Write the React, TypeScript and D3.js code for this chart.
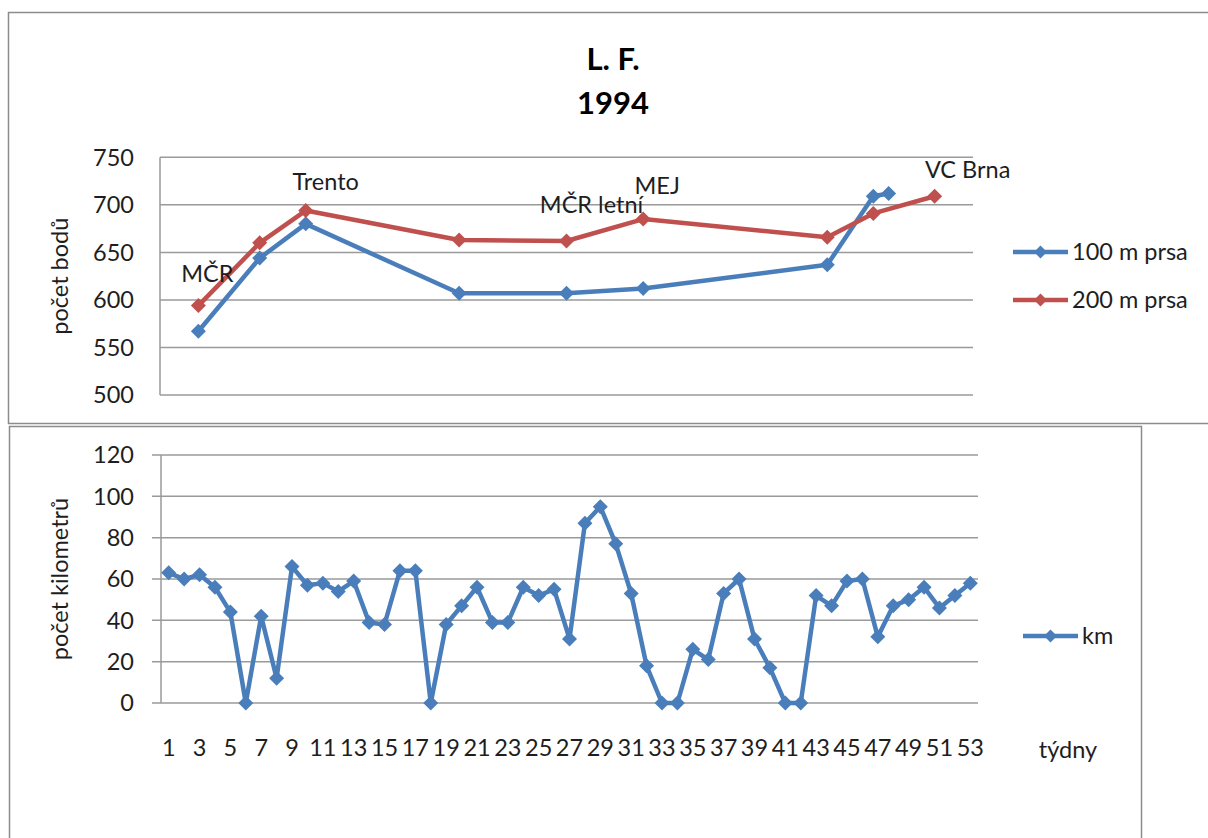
import React from "react";
import * as d3 from "d3";

// Weeks of the season (category axis shared by both panels)
const weeks: number[] = d3.range(1, 54);

// Points scored per race week – 100 m breaststroke
const prsa100Weeks = [3, 7, 10, 20, 27, 32, 44, 47, 48];
const prsa100Values = [567, 644, 680, 607, 607, 612, 637, 709, 712];

// Points scored per race week – 200 m breaststroke
const prsa200Weeks = [3, 7, 10, 20, 27, 32, 44, 47, 51];
const prsa200Values = [594, 660, 694, 663, 662, 685, 666, 691, 709];

// Race names, attached to points of the 200 m series
const raceWeeks = [3, 10, 27, 32, 51];
const raceNames = ["MČR", "Trento", "MČR letní", "MEJ", "VC Brna"];

// Weekly training volume in km
const kmValues = [
  63, 60, 62, 56, 44, 0, 42, 12, 66, 57,
  58, 54, 59, 39, 38, 64, 64, 0, 38, 47,
  56, 39, 39, 56, 52, 55, 31, 87, 95, 77,
  53, 18, 0, 0, 26, 21, 53, 60, 31, 17,
  0, 0, 52, 47, 59, 60, 32, 47, 50, 56,
  46, 52, 58,
];

const pointsTicks = [500, 550, 600, 650, 700, 750];
const kmTicks = [0, 20, 40, 60, 80, 100, 120];
const weekTicks = weeks.filter((w) => w % 2 === 1);

const BLUE = "#4a7ebb";
const RED = "#c0504d";
const GRID = "#9a9a9a";
const TEXT = "#1e1e1e";
const FONT = "Lato, 'Open Sans', sans-serif";
const FS = 23.5;

const diamond = (r: number) => `M0,${-r}L${r},0L0,${r}L${-r},0Z`;

export default function App() {
  // Upper panel scales
  const xTop = d3.scalePoint<number>().domain(weeks).range([160, 973]).padding(0.5);
  const yTop = d3.scaleLinear().domain([500, 750]).range([395, 157.3]);

  // Lower panel scales
  const xBot = d3.scalePoint<number>().domain(weeks).range([161, 978]).padding(0.5);
  const yBot = d3.scaleLinear().domain([0, 120]).range([703, 455]);

  const s100 = prsa100Weeks.map((w, i) => ({ w, v: prsa100Values[i] }));
  const s200 = prsa200Weeks.map((w, i) => ({ w, v: prsa200Values[i] }));
  const sKm = weeks.map((w, i) => ({ w, v: kmValues[i] }));

  const lineTop = d3
    .line<{ w: number; v: number }>()
    .x((d) => xTop(d.w)!)
    .y((d) => yTop(d.v));
  const lineBot = d3
    .line<{ w: number; v: number }>()
    .x((d) => xBot(d.w)!)
    .y((d) => yBot(d.v));

  // Label offsets relative to their 200 m point
  const labelShift: Record<string, [number, number]> = {
    "MČR": [9, -32],
    Trento: [20, -29],
    "MČR letní": [25, -36],
    MEJ: [14, -33],
    "VC Brna": [33, -27],
  };

  const [xt0, xt1] = xTop.range();
  const [xb0, xb1] = xBot.range();

  return (
    <svg
      width={1208}
      height={838}
      style={{ position: "absolute", left: 0, top: 0, background: "#fff" }}
      fontFamily={FONT}
    >
      <rect x={0} y={0} width={1208} height={838} fill="#fff" />

      {/* Upper chart frame */}
      <rect x={8.5} y={12.5} width={1220} height={411} fill="#fff" stroke="#8c8c8c" strokeWidth={1.5} />
      {/* Lower chart frame */}
      <rect x={9.5} y={426.5} width={1132} height={430} fill="#fff" stroke="#8c8c8c" strokeWidth={1.5} />

      {/* Title */}
      <text x={613} y={70} textAnchor="middle" fontSize={31} fontWeight={700} fill="#000">
        L. F.
      </text>
      <text x={613} y={114} textAnchor="middle" fontSize={31} fontWeight={700} fill="#000">
        1994
      </text>

      {/* Upper panel: grid, axis */}
      {pointsTicks.map((t) => (
        <g key={t}>
          <line x1={xt0} x2={xt1} y1={yTop(t)} y2={yTop(t)} stroke={GRID} strokeWidth={1.5} />
          <text x={134} y={yTop(t)} dy="0.35em" textAnchor="end" fontSize={FS} fill={TEXT}>
            {t}
          </text>
        </g>
      ))}
      <line x1={xt0} x2={xt0} y1={yTop(750)} y2={yTop(500)} stroke={GRID} strokeWidth={1.5} />
      <text
        transform={`translate(60,${(yTop(500) + yTop(750)) / 2}) rotate(-90)`}
        textAnchor="middle"
        dy="0.35em"
        fontSize={FS}
        fill={TEXT}
      >
        počet bodů
      </text>

      {/* Upper panel: series */}
      <path d={lineTop(s100) ?? ""} fill="none" stroke={BLUE} strokeWidth={4.5} strokeLinejoin="round" />
      {s100.map((d) => (
        <path key={`b${d.w}`} d={diamond(7.5)} transform={`translate(${xTop(d.w)},${yTop(d.v)})`} fill={BLUE} />
      ))}
      <path d={lineTop(s200) ?? ""} fill="none" stroke={RED} strokeWidth={4.5} strokeLinejoin="round" />
      {s200.map((d) => (
        <path key={`r${d.w}`} d={diamond(7.5)} transform={`translate(${xTop(d.w)},${yTop(d.v)})`} fill={RED} />
      ))}

      {/* Race labels */}
      {raceNames.map((name, i) => {
        const w = raceWeeks[i];
        const idx = prsa200Weeks.indexOf(w);
        const [dx, dy] = labelShift[name];
        return (
          <text
            key={name}
            x={xTop(w)! + dx}
            y={yTop(prsa200Values[idx]) + dy}
            dy="0.35em"
            textAnchor="middle"
            fontSize={FS}
            fill={TEXT}
          >
            {name}
          </text>
        );
      })}

      {/* Upper legend */}
      <g transform="translate(1013,252)">
        <line x1={0} x2={55} y1={0} y2={0} stroke={BLUE} strokeWidth={4.5} />
        <path d={diamond(6.5)} transform="translate(27.5,0)" fill={BLUE} />
        <text x={59} y={0} dy="0.35em" fontSize={FS} fill={TEXT}>
          100 m prsa
        </text>
      </g>
      <g transform="translate(1013,300)">
        <line x1={0} x2={55} y1={0} y2={0} stroke={RED} strokeWidth={4.5} />
        <path d={diamond(6.5)} transform="translate(27.5,0)" fill={RED} />
        <text x={59} y={0} dy="0.35em" fontSize={FS} fill={TEXT}>
          200 m prsa
        </text>
      </g>

      {/* Lower panel: grid, axes */}
      {kmTicks.map((t) => (
        <g key={t}>
          <line x1={xb0 - 9} x2={xb1} y1={yBot(t)} y2={yBot(t)} stroke={GRID} strokeWidth={1.5} />
          <text x={134} y={yBot(t)} dy="0.35em" textAnchor="end" fontSize={FS} fill={TEXT}>
            {t}
          </text>
        </g>
      ))}
      <line x1={xb0} x2={xb0} y1={yBot(120)} y2={yBot(0)} stroke={GRID} strokeWidth={1.5} />
      {weekTicks.map((w) => (
        <text key={w} x={xBot(w)!} y={748} dy="0.35em" textAnchor="middle" fontSize={FS} fill={TEXT}>
          {w}
        </text>
      ))}
      <text
        transform={`translate(60,${(yBot(0) + yBot(120)) / 2}) rotate(-90)`}
        textAnchor="middle"
        dy="0.35em"
        fontSize={FS}
        fill={TEXT}
      >
        počet kilometrů
      </text>
      <text x={1068} y={750} dy="0.35em" textAnchor="middle" fontSize={FS} fill={TEXT}>
        týdny
      </text>

      {/* Lower panel: weekly km */}
      <path d={lineBot(sKm) ?? ""} fill="none" stroke={BLUE} strokeWidth={4.5} strokeLinejoin="round" />
      {sKm.map((d) => (
        <path key={`k${d.w}`} d={diamond(7.5)} transform={`translate(${xBot(d.w)},${yBot(d.v)})`} fill={BLUE} />
      ))}

      {/* Lower legend */}
      <g transform="translate(1023,636)">
        <line x1={0} x2={55} y1={0} y2={0} stroke={BLUE} strokeWidth={4.5} />
        <path d={diamond(6.5)} transform="translate(27.5,0)" fill={BLUE} />
        <text x={59} y={0} dy="0.35em" fontSize={FS} fill={TEXT}>
          km
        </text>
      </g>
    </svg>
  );
}
